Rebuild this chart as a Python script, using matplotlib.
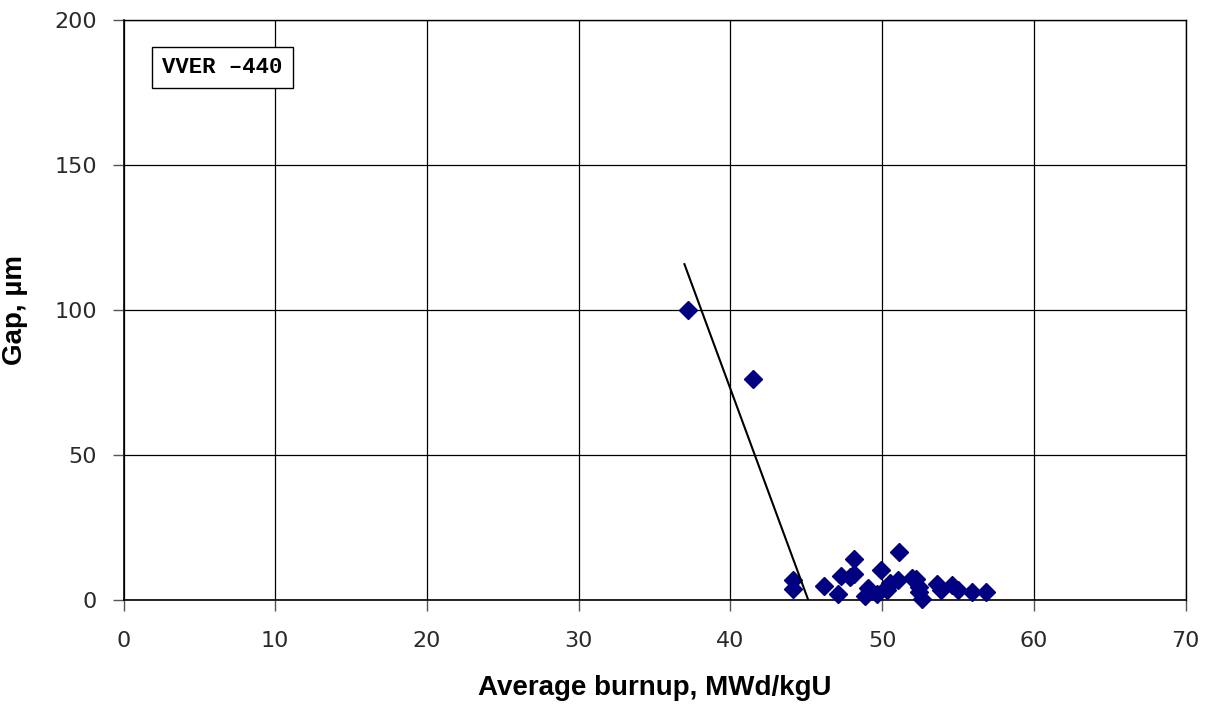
import matplotlib
matplotlib.use("Agg")
import matplotlib.pyplot as plt

# Measured gap vs. average burnup (VVER-440 rods)
burnup = [37.2, 41.5, 44.1, 44.1, 46.2, 47.1, 47.3, 47.9, 48.15, 48.15,
          48.9, 49.05, 49.65, 49.95, 50.3, 50.3, 50.5, 51.1, 51.07, 51.95,
          52.2, 52.45, 52.45, 52.6, 53.6, 53.9, 54.6, 55.0, 55.95, 56.85]
gap = [100.0, 76.2, 6.9, 3.7, 4.9, 2.1, 8.3, 8.0, 9.0, 14.1,
       1.2, 4.2, 2.1, 10.3, 4.6, 3.5, 5.7, 16.7, 6.9, 7.6,
       7.1, 4.6, 2.9, 0.3, 5.5, 3.6, 5.0, 3.4, 2.9, 2.9]

# Trend line end points
trend_x = [36.97, 45.13]
trend_y = [115.8, 0.0]

x_ticks = [0, 10, 20, 30, 40, 50, 60, 70]
y_ticks = [0, 50, 100, 150, 200]

fig = plt.figure(figsize=(12.11, 7.14), dpi=100)
ax = fig.add_axes([0.102, 0.1597, 0.877, 0.8123])

ax.set_xlim(0, 70)
ax.set_ylim(0, 200)
ax.set_xticks(x_ticks)
ax.set_yticks(y_ticks)
ax.grid(True, color="black", linewidth=0.9)
ax.set_axisbelow(True)

ax.plot(burnup, gap, linestyle="none", marker="D", markersize=9,
        color="#000080", zorder=3, clip_on=False)
ax.plot(trend_x, trend_y, color="black", linewidth=1.5, zorder=4)

for s in ax.spines.values():
    s.set_color("black")
    s.set_linewidth(1.2)
ax.spines["top"].set_linewidth(1.0)
ax.spines["right"].set_linewidth(1.0)

ax.tick_params(direction="out", length=8, width=1, color="#555555",
               labelsize=16, labelcolor="#2a2a2a")
ax.tick_params(axis="x", pad=14)
ax.tick_params(axis="y", pad=11)
for lab in ax.get_xticklabels() + ax.get_yticklabels():
    lab.set_family("DejaVu Sans")

ax.set_xlabel("Average burnup, MWd/kgU", fontsize=20, fontweight="bold",
              family="Liberation Sans")
ax.set_ylabel("Gap, \u00b5m", fontsize=20, fontweight="bold",
              family="Liberation Sans")
ax.xaxis.set_label_coords(0.5, -0.13)
ax.yaxis.set_label_coords(-0.09, 0.5)

ax.text(0.0367, 0.937, "VVER \u2013440", transform=ax.transAxes,
        fontsize=16, fontweight="bold", family="Liberation Mono",
        va="top", ha="left",
        bbox=dict(boxstyle="square,pad=0.45", facecolor="white",
                  edgecolor="black", linewidth=1.0))

fig.savefig("out.png", dpi=100)
